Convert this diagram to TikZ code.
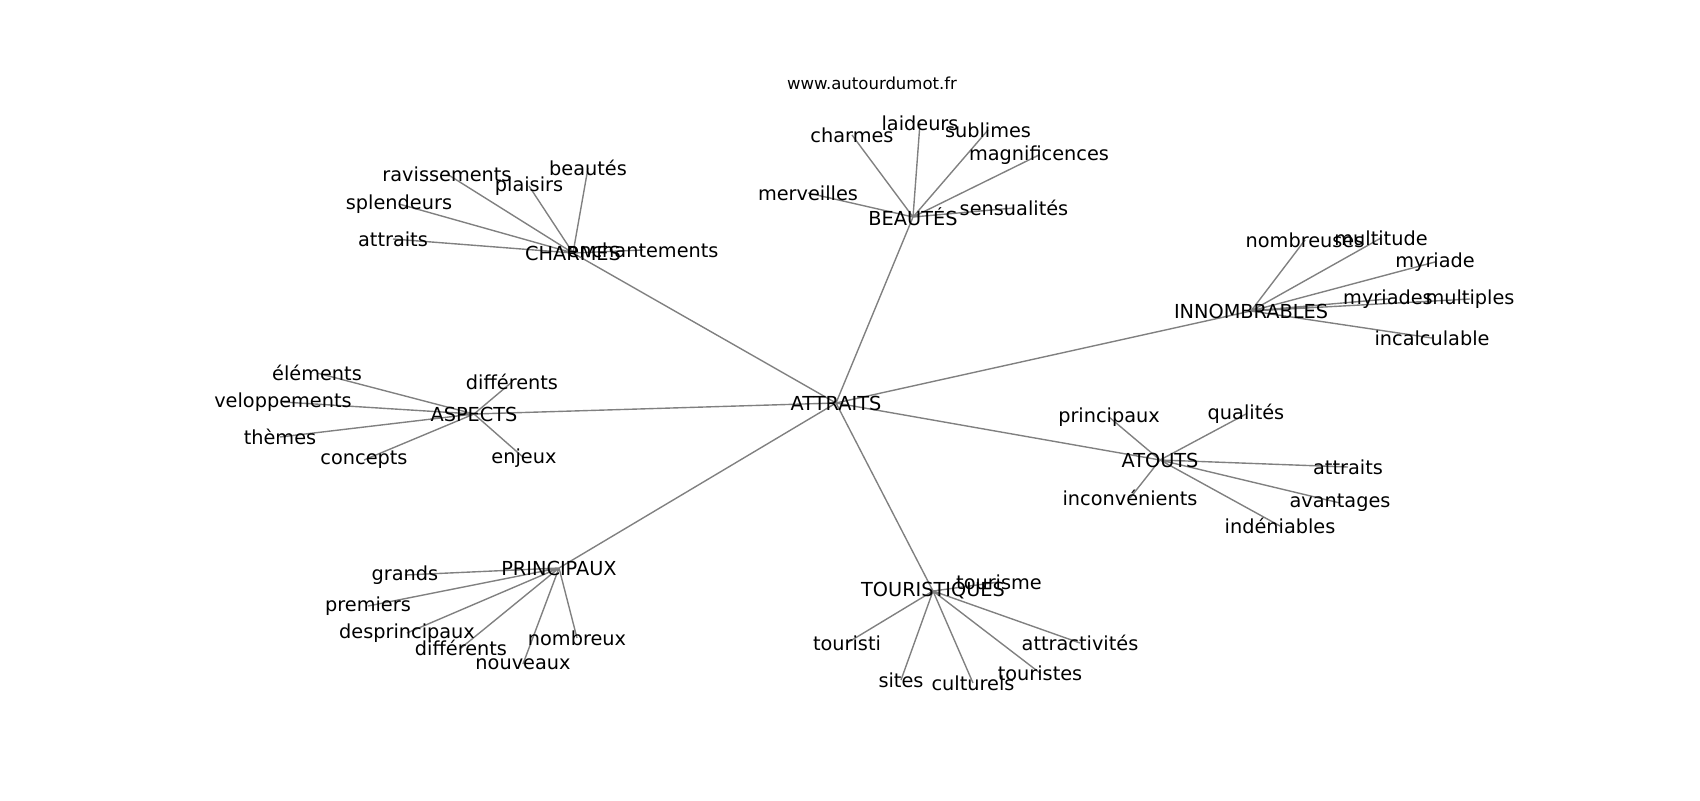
\documentclass[tikz,border=0pt]{standalone}
\usepackage{fontspec}
\setmainfont{DejaVu Sans}
\usetikzlibrary{backgrounds}
\begin{document}
\begin{tikzpicture}[
            x=0.72pt, y=-0.72pt,
            word/.style={font=\fontsize{13.9}{16}\selectfont, inner sep=0pt},
            site/.style={font=\fontsize{11.9}{14}\selectfont, inner sep=0pt},
            link/.style={draw=gray, line width=1pt},
        ]
            \useasboundingbox (0,0) rectangle (1700,800);
            \node(sitenode) at (872,83) [site] {www.autourdumot.fr};
            % hubs
            \node(attraitsnode) at (836,403) [word] {ATTRAITS};
            \node(charmesnode) at (573,253) [word] {CHARMES};
            \node(beautesnode) at (913,217) [word] {BEAUTÉS};
            \node(innombrablesnode) at (1251,311) [word] {INNOMBRABLES};
            \node(aspectsnode) at (474,414) [word] {ASPECTS};
            \node(atoutsnode) at (1160,460) [word] {ATOUTS};
            \node(principauxnode) at (559,568) [word] {PRINCIPAUX};
            \node(touristiquesnode) at (933,591) [word] {TOURISTIQUES};
            % charmes
            \node(ravissementsnode) at (447,174) [word] {ravissements};
            \node(plaisirsnode) at (529,186) [word] {plaisirs};
            \node(beautesleaf) at (588,168) [word] {beautés};
            \node(splendeursnode) at (399,204) [word] {splendeurs};
            \node(attraitsleaf) at (393,239) [word] {attraits};
            \node(enchantementsnode) at (643,250) [word] {enchantements};
            % beautes
            \node(charmesleaf) at (852,135) [word] {charmes};
            \node(laideursnode) at (920,123) [word] {laideurs};
            \node(sublimesnode) at (988,130) [word] {sublimes};
            \node(magnificencesnode) at (1039,155) [word] {magnificences};
            \node(merveillesnode) at (808,193) [word] {merveilles};
            \node(sensualitesnode) at (1014,208) [word] {sensualités};
            % innombrables
            \node(nombreusesnode) at (1305,240) [word] {nombreuses};
            \node(multitudenode) at (1381,238) [word] {multitude};
            \node(myriadenode) at (1435,262) [word] {myriade};
            \node(myriadesnode) at (1388,299) [word] {myriades};
            \node(multiplesnode) at (1470,299) [word] {multiples};
            \node(incalculablenode) at (1432,338) [word] {incalculable};
            % aspects
            \node(elementsnode) at (317,373) [word] {éléments};
            \node(veloppementsnode) at (283,402) [word] {veloppements};
            \node(themesnode) at (280,437) [word] {thèmes};
            \node(conceptsnode) at (364,460) [word] {concepts};
            \node(differentsnode) at (512,382) [word] {différents};
            \node(enjeuxnode) at (524,458) [word] {enjeux};
            % atouts
            \node(principauxleaf) at (1109,417) [word] {principaux};
            \node(qualitesnode) at (1246,414) [word] {qualités};
            \node(attraitsbis) at (1348,467) [word] {attraits};
            \node(avantagesnode) at (1340,503) [word] {avantages};
            \node(indeniablesnode) at (1280,526) [word] {indéniables};
            \node(inconvenientsnode) at (1130,498) [word] {inconvénients};
            % principaux
            \node(grandsnode) at (405,575) [word] {grands};
            \node(premiersnode) at (368,606) [word] {premiers};
            \node(desprincipauxnode) at (407,633) [word] {desprincipaux};
            \node(differentsbis) at (461,648) [word] {différents};
            \node(nouveauxnode) at (523,664) [word] {nouveaux};
            \node(nombreuxnode) at (577,638) [word] {nombreux};
            % touristiques
            \node(tourismenode) at (999,582) [word] {tourisme};
            \node(touristinode) at (847,643) [word] {touristi};
            \node(sitesnode) at (901,680) [word] {sites};
            \node(culturelsnode) at (973,683) [word] {culturels};
            \node(touristesnode) at (1040,673) [word] {touristes};
            \node(attractivitesnode) at (1080,643) [word] {attractivités};
            \begin{pgfonlayer}{background}
            \draw[link] (attraitsnode.center) -- (charmesnode.center)
                (attraitsnode.center) -- (beautesnode.center)
                (attraitsnode.center) -- (innombrablesnode.center)
                (attraitsnode.center) -- (aspectsnode.center)
                (attraitsnode.center) -- (atoutsnode.center)
                (attraitsnode.center) -- (principauxnode.center)
                (attraitsnode.center) -- (touristiquesnode.center);
            \draw[link] (charmesnode.center) -- (ravissementsnode.center)
                (charmesnode.center) -- (plaisirsnode.center)
                (charmesnode.center) -- (beautesleaf.center)
                (charmesnode.center) -- (splendeursnode.center)
                (charmesnode.center) -- (attraitsleaf.center)
                (charmesnode.center) -- (enchantementsnode.center);
            \draw[link] (beautesnode.center) -- (charmesleaf.center)
                (beautesnode.center) -- (laideursnode.center)
                (beautesnode.center) -- (sublimesnode.center)
                (beautesnode.center) -- (magnificencesnode.center)
                (beautesnode.center) -- (merveillesnode.center)
                (beautesnode.center) -- (sensualitesnode.center);
            \draw[link] (innombrablesnode.center) -- (nombreusesnode.center)
                (innombrablesnode.center) -- (multitudenode.center)
                (innombrablesnode.center) -- (myriadenode.center)
                (innombrablesnode.center) -- (myriadesnode.center)
                (innombrablesnode.center) -- (multiplesnode.center)
                (innombrablesnode.center) -- (incalculablenode.center);
            \draw[link] (aspectsnode.center) -- (elementsnode.center)
                (aspectsnode.center) -- (veloppementsnode.center)
                (aspectsnode.center) -- (themesnode.center)
                (aspectsnode.center) -- (conceptsnode.center)
                (aspectsnode.center) -- (differentsnode.center)
                (aspectsnode.center) -- (enjeuxnode.center);
            \draw[link] (atoutsnode.center) -- (principauxleaf.center)
                (atoutsnode.center) -- (qualitesnode.center)
                (atoutsnode.center) -- (attraitsbis.center)
                (atoutsnode.center) -- (avantagesnode.center)
                (atoutsnode.center) -- (indeniablesnode.center)
                (atoutsnode.center) -- (inconvenientsnode.center);
            \draw[link] (principauxnode.center) -- (grandsnode.center)
                (principauxnode.center) -- (premiersnode.center)
                (principauxnode.center) -- (desprincipauxnode.center)
                (principauxnode.center) -- (differentsbis.center)
                (principauxnode.center) -- (nouveauxnode.center)
                (principauxnode.center) -- (nombreuxnode.center);
            \draw[link] (touristiquesnode.center) -- (tourismenode.center)
                (touristiquesnode.center) -- (touristinode.center)
                (touristiquesnode.center) -- (sitesnode.center)
                (touristiquesnode.center) -- (culturelsnode.center)
                (touristiquesnode.center) -- (touristesnode.center)
                (touristiquesnode.center) -- (attractivitesnode.center);
            \end{pgfonlayer}
        \end{tikzpicture}
\end{document}
